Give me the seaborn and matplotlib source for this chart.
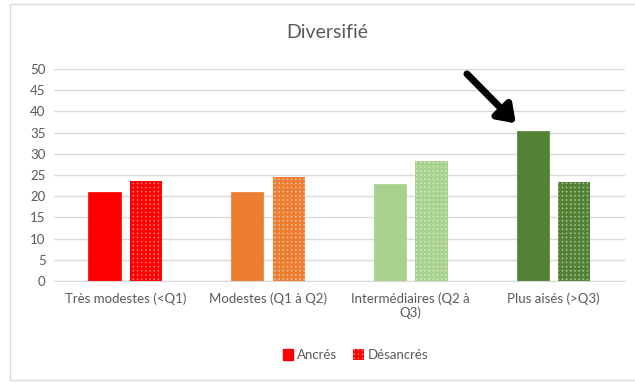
import numpy as np
import pandas as pd
import matplotlib
matplotlib.use("Agg")
import matplotlib.pyplot as plt
from matplotlib.patches import Patch, Rectangle
import seaborn as sns

# DATA
categories = ["Très modestes (<Q1)", "Modestes (Q1 à Q2)",
              "Intermédiaires (Q2 à\nQ3)", "Plus aisés (>Q3)"]
types = ["Ancrés", "Désancrés"]
ancres = [20.9, 20.9, 22.9, 35.4]
desancres = [23.7, 24.5, 28.4, 23.4]
bar_colors = ["#FF0000", "#ED7D31", "#A9D18E", "#548235"]

df = pd.DataFrame({
    "categorie": categories * 2,
    "type": [types[0]] * 4 + [types[1]] * 4,
    "valeur": ancres + desancres,
})

sns.set_style("white")
plt.rcParams['font.family'] = ['Lato', 'DejaVu Sans']
plt.rcParams['hatch.linewidth'] = 1.8
text_color = "#595959"
grid_color = "#D9D9D9"

fig = plt.figure(figsize=(6.35, 3.83), dpi=100)
ax = fig.add_axes([0.085, 0.266, 0.899, 0.554])

sns.barplot(data=df, x="categorie", y="valeur", hue="type",
            order=categories, hue_order=types,
            width=0.58, gap=0.22, ax=ax, legend=False)

# recolour bars per category
for h, cont in enumerate(ax.containers):
    for i, bar in enumerate(cont):
        c = bar_colors[i]
        if h == 0:
            bar.set_facecolor(c)
            bar.set_edgecolor(c)
            bar.set_linewidth(0.5)
        else:
            rgb = np.array(matplotlib.colors.to_rgb(c))
            light = 1 - (1 - rgb) * 0.5
            bar.set_facecolor(light)
            bar.set_edgecolor(c)
            bar.set_hatch("++++")
            bar.set_linewidth(0)

ax.set_ylim(0, 50)
ax.set_yticks(range(0, 51, 5))
ax.set_xlim(-0.5, 3.5)
ax.yaxis.grid(True, color=grid_color, linewidth=1)
ax.set_axisbelow(True)
for s in ["top", "right", "left"]:
    ax.spines[s].set_visible(False)
ax.spines["bottom"].set_color(grid_color)
ax.tick_params(axis="both", length=0, labelsize=9.5, colors=text_color, pad=6)
ax.tick_params(axis="x", pad=8)
ax.set_xlabel("")
ax.set_ylabel("")

fig.text(0.515, 0.915, "Diversifié", ha="center", va="center",
         fontsize=14, color=text_color)

# legend
handles = [Patch(facecolor=bar_colors[0], edgecolor=bar_colors[0], label=types[0]),
           Patch(facecolor="#FF8080", edgecolor=bar_colors[0], hatch="++++", linewidth=0,
                 label=types[1])]
leg = fig.legend(handles=handles, loc="center", bbox_to_anchor=(0.56, 0.073), ncol=2,
                 frameon=False, fontsize=9.5, handlelength=0.8, handleheight=0.8,
                 handletextpad=0.3, columnspacing=1.2)
for t in leg.get_texts():
    t.set_color(text_color)

# arrow pointing at the highest bar
ax.annotate("", xy=(2.75, 36.7), xytext=(2.38, 49.3),
            arrowprops=dict(arrowstyle="-|>,head_length=1.0,head_width=0.7",
                            color="black", lw=5),
            annotation_clip=False)

# chart frame
fig.patches.append(Rectangle((0.016, 0.008), 0.99, 0.982, transform=fig.transFigure,
                             fill=False, edgecolor=grid_color, linewidth=1))

fig.savefig("out.png", dpi=100)
